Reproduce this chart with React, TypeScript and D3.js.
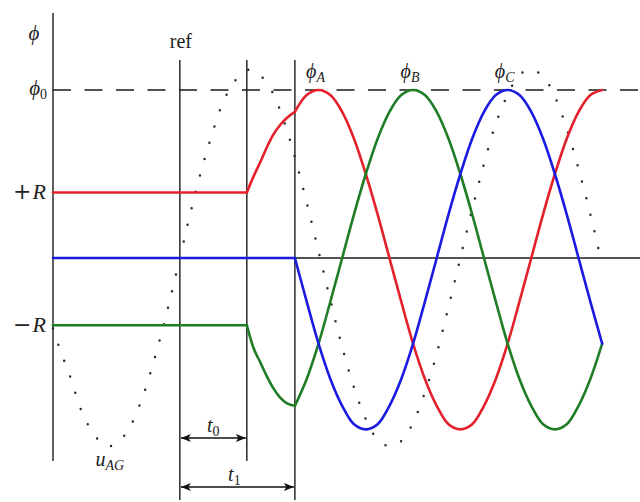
import React from "react";
import * as d3 from "d3";

const WIDTH = 640;
const HEIGHT = 502;

// Electrical angle (degrees) of the key instants on the time axis
const AXIS_ANGLE = -157;
const REF_ANGLE = 4;
const T0_ANGLE = 89;
const T1_ANGLE = 150;
const RIGHT_ANGLE = 588;

// Flux levels in units of phi0
const PHI0 = 1;
const R_POS = 0.39;
const R_NEG = -0.4;

// Transient between t0 and t1 (phase A rises, phase B falls)
const TRANSIENT_ANGLES = [89, 97, 106, 114, 122, 131, 140, 150];
const TRANSIENT_A = [0.39, 0.48, 0.57, 0.655, 0.73, 0.79, 0.835, 0.87];
const TRANSIENT_B = [-0.4, -0.53, -0.62, -0.7, -0.77, -0.83, -0.865, -0.88];

// Steady-state flux after t1
const STEADY_ANGLES = [
  150, 165, 180, 195, 210, 225, 240, 255, 270, 285, 300, 315, 330, 345,
  360, 375, 390, 405, 420, 435, 450, 465, 480, 495, 510, 525, 540,
];
const STEADY_A = [
  0.87, 0.97, 1, 0.97, 0.87, 0.71, 0.5, 0.26, 0, -0.26, -0.51, -0.72, -0.88,
  -0.99, -1.02, -0.99, -0.88, -0.72, -0.51, -0.26, 0, 0.26, 0.5, 0.71, 0.87,
  0.97, 1,
];
const STEADY_B = [
  -0.88, -0.72, -0.51, -0.26, 0, 0.26, 0.5, 0.71, 0.87, 0.97, 1, 0.97, 0.87,
  0.71, 0.5, 0.26, 0, -0.26, -0.51, -0.72, -0.88, -0.99, -1.02, -0.99, -0.88,
  -0.72, -0.51,
];
const STEADY_C = [
  0, -0.26, -0.51, -0.72, -0.88, -0.99, -1.02, -0.99, -0.88, -0.72, -0.51,
  -0.26, 0, 0.26, 0.5, 0.71, 0.87, 0.97, 1, 0.97, 0.87, 0.71, 0.5, 0.26, 0,
  -0.26, -0.51,
];

// Line voltage u_AG (dotted)
const UAG_ANGLES = [
  -157, -150, -135, -120, -105, -90, -75, -60, -45, -30, -15, 0, 15, 30, 45,
  60, 75, 90, 105, 120, 135, 150, 165, 180, 195, 210, 225, 240, 255, 270, 285,
  300, 315, 330, 345, 360, 375, 390, 405, 420, 435, 450, 465, 480, 495, 510,
  525, 536,
];
const UAG_VALUES = [
  -0.42, -0.52, -0.71, -0.92, -1.05, -1.12, -1.1, -1.01, -0.85, -0.63, -0.37,
  -0.08, 0.22, 0.5, 0.74, 0.94, 1.06, 1.12, 1.09, 1.0, 0.83, 0.6, 0.33, 0.04,
  -0.25, -0.53, -0.77, -0.96, -1.08, -1.12, -1.09, -0.98, -0.8, -0.57, -0.29,
  0.0, 0.29, 0.56, 0.8, 0.97, 1.09, 1.12, 1.08, 0.96, 0.77, 0.53, 0.26, 0.04,
];

const PHASE_NAMES = ["A", "B", "C"];
const PHASE_PEAKS = [180, 300, 420];
const PHASE_COLORS = ["#e3212b", "#1f7d26", "#1a1ae0"];

const MATH_FONT = "'Liberation Serif', 'DejaVu Serif', serif";
const TEXT_COLOR = "#222";

type Pt = [number, number];

export default function App() {
  const x = d3.scaleLinear().domain([AXIS_ANGLE, RIGHT_ANGLE]).range([53, 640]);
  const y = d3.scaleLinear().domain([0, PHI0]).range([258, 90]);

  const linear = d3
    .line<Pt>()
    .x((d) => x(d[0]))
    .y((d) => y(d[1]));
  const monotone = d3
    .line<Pt>()
    .x((d) => x(d[0]))
    .y((d) => y(d[1]))
    .curve(d3.curveMonotoneX);
  const smooth = d3
    .line<Pt>()
    .x((d) => x(d[0]))
    .y((d) => y(d[1]))
    .curve(d3.curveCatmullRom.alpha(0.5));

  const zip = (xs: number[], ys: number[]): Pt[] => xs.map((a, i) => [a, ys[i]]);

  const flat: Pt[][] = [
    [
      [AXIS_ANGLE, R_POS],
      [T0_ANGLE, R_POS],
    ],
    [
      [AXIS_ANGLE, R_NEG],
      [T0_ANGLE, R_NEG],
    ],
    [
      [AXIS_ANGLE, 0],
      [T1_ANGLE, 0],
    ],
  ];
  const transient: (Pt[] | null)[] = [
    zip(TRANSIENT_ANGLES, TRANSIENT_A),
    zip(TRANSIENT_ANGLES, TRANSIENT_B),
    null,
  ];
  const steady = [STEADY_A, STEADY_B, STEADY_C].map((v) => zip(STEADY_ANGLES, v));

  const uag = zip(UAG_ANGLES, UAG_VALUES);

  const xAxis = x(AXIS_ANGLE);
  const xRef = x(REF_ANGLE);
  const xT0 = x(T0_ANGLE);
  const xT1 = x(T1_ANGLE);

  const yT0Arrow = 438;
  const yT1Arrow = 487;

  return (
    <svg
      width={WIDTH}
      height={HEIGHT}
      viewBox={`0 0 ${WIDTH} ${HEIGHT}`}
      style={{ position: "absolute", left: 0, top: 0, background: "#fff" }}
    >
      <defs>
        <marker
          id="arrow"
          viewBox="0 0 10 8"
          refX="10"
          refY="4"
          markerWidth="10"
          markerHeight="8"
          markerUnits="userSpaceOnUse"
          orient="auto-start-reverse"
        >
          <path d="M0,0 L10,4 L0,8 L2.5,4 Z" fill="#111" />
        </marker>
      </defs>
      <rect width={WIDTH} height={HEIGHT} fill="#fff" />

      {/* phi0 level */}
      <path
        d={linear([
          [AXIS_ANGLE, PHI0],
          [RIGHT_ANGLE, PHI0],
        ]) ?? ""}
        stroke="#1a1a1a"
        strokeWidth={1.7}
        strokeDasharray="18 13.5"
        fill="none"
      />

      {/* vertical axis and instants */}
      <line x1={xAxis} x2={xAxis} y1={13} y2={461} stroke="#1a1a1a" strokeWidth={1.4} />
      <line x1={xRef} x2={xRef} y1={60} y2={500} stroke="#1a1a1a" strokeWidth={1.4} />
      <line x1={xT0} x2={xT0} y1={60} y2={461} stroke="#1a1a1a" strokeWidth={1.4} />
      <line x1={xT1} x2={xT1} y1={60} y2={500} stroke="#1a1a1a" strokeWidth={1.4} />

      {/* time axis */}
      <path
        d={linear([
          [AXIS_ANGLE, 0],
          [RIGHT_ANGLE, 0],
        ]) ?? ""}
        stroke="#1a1a1a"
        strokeWidth={1.4}
        fill="none"
      />

      {/* u_AG */}
      <path
        d={smooth(uag) ?? ""}
        stroke="#2a2a2a"
        strokeWidth={2.5}
        strokeLinecap="round"
        strokeDasharray="0 17"
        fill="none"
      />

      {/* phase fluxes */}
      {PHASE_COLORS.map((c, i) => {
        const common = {
          stroke: c,
          strokeWidth: 2.6,
          strokeLinejoin: "round" as const,
          strokeLinecap: "round" as const,
          fill: "none",
        };
        const tr = transient[i];
        return (
          <g key={PHASE_NAMES[i]}>
            <path d={linear(flat[i]) ?? ""} {...common} />
            {tr && <path d={monotone(tr) ?? ""} {...common} />}
            <path d={smooth(steady[i]) ?? ""} {...common} />
          </g>
        );
      })}

      {/* interval arrows */}
      <line
        x1={xRef + 1}
        x2={xT0 - 1}
        y1={yT0Arrow}
        y2={yT0Arrow}
        stroke="#111"
        strokeWidth={1.4}
        markerStart="url(#arrow)"
        markerEnd="url(#arrow)"
      />
      <line
        x1={xRef + 1}
        x2={xT1 - 1}
        y1={yT1Arrow}
        y2={yT1Arrow}
        stroke="#111"
        strokeWidth={1.4}
        markerStart="url(#arrow)"
        markerEnd="url(#arrow)"
      />

      {/* labels */}
      <g fill={TEXT_COLOR} fontFamily={MATH_FONT}>
        <text x={34} y={40} fontSize={21} fontStyle="italic" textAnchor="middle">
          ϕ
        </text>
        <text x={47} y={y(PHI0) + 5} fontSize={21} textAnchor="end">
          <tspan fontStyle="italic">ϕ</tspan>
          <tspan fontSize={14} dy={4}>
            0
          </tspan>
        </text>
        <text x={46} y={y(R_POS) + 7} fontSize={22} textAnchor="end">
          <tspan fontFamily="'DejaVu Serif', serif" fontSize={22}>
            +
          </tspan>
          <tspan fontStyle="italic" dx={1}>
            R
          </tspan>
        </text>
        <text x={46} y={y(R_NEG) + 7} fontSize={22} textAnchor="end">
          <tspan fontFamily="'DejaVu Serif', serif" fontSize={22}>
            −
          </tspan>
          <tspan fontStyle="italic" dx={1}>
            R
          </tspan>
        </text>
        <text x={xRef + 1} y={48} fontSize={20} textAnchor="middle">
          ref
        </text>
        {PHASE_NAMES.map((n, i) => (
          <text
            key={n}
            x={x(PHASE_PEAKS[i]) - 3}
            y={78}
            fontSize={20}
            textAnchor="middle"
            fontStyle="italic"
          >
            <tspan>ϕ</tspan>
            <tspan fontSize={14} dy={4}>
              {n}
            </tspan>
          </text>
        ))}
        <text x={(xRef + xT0) / 2} y={yT0Arrow - 6} fontSize={20} textAnchor="middle" fontStyle="italic">
          <tspan>t</tspan>
          <tspan fontSize={14} dy={4} fontStyle="normal">
            0
          </tspan>
        </text>
        <text x={(xRef + xT1) / 2 - 3} y={yT1Arrow - 6} fontSize={20} textAnchor="middle" fontStyle="italic">
          <tspan>t</tspan>
          <tspan fontSize={14} dy={4} fontStyle="normal">
            1
          </tspan>
        </text>
        <text x={x(-85)} y={466} fontSize={20} textAnchor="middle" fontStyle="italic">
          <tspan>u</tspan>
          <tspan fontSize={14} dy={4}>
            AG
          </tspan>
        </text>
      </g>
    </svg>
  );
}
